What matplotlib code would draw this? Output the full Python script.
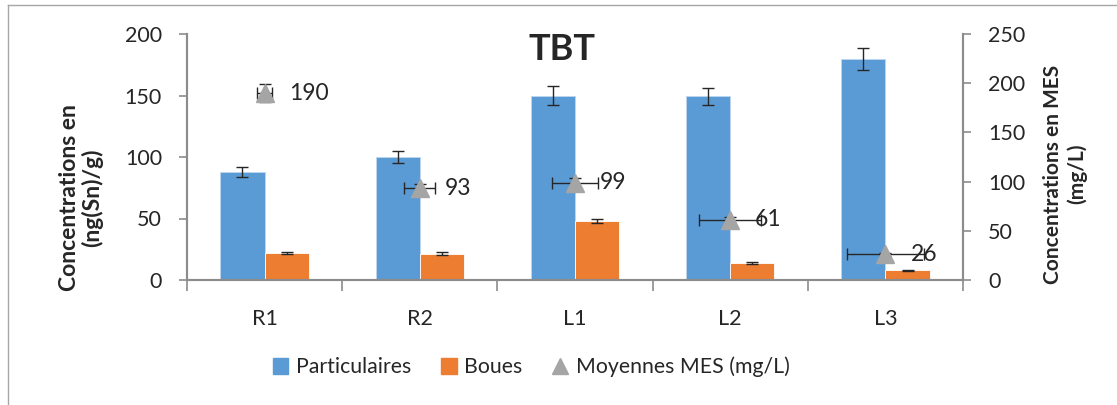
import numpy as np
import matplotlib
matplotlib.use("Agg")
import matplotlib.pyplot as plt
from matplotlib.lines import Line2D
from matplotlib.patches import Patch

plt.rcParams["font.family"] = ["Lato", "DejaVu Sans"]

# ── data ─────────────────────────────────────────────────────────────────────
sites = ["R1", "R2", "L1", "L2", "L3"]
particulaires = [88, 100, 150, 149.5, 180]
particulaires_err = [4, 5, 8, 7, 9]
boues = [22, 21.5, 48, 14, 8]
boues_err = [1, 1, 2, 0.7, 0.5]
mes = [190, 93, 99, 61, 26]          # right axis, mg/L
mes_xerr = [0.05, 0.10, 0.15, 0.20, 0.25]   # 5 % of category index (Excel style)
mes_yerr = [9.5, 4.7, 5.0, 3.0, 1.3]

BLUE = "#5B9BD5"
ORANGE = "#ED7D31"
GREY = "#A5A5A5"
AXC = "#8C8C8C"
TXT = "#262626"

fig = plt.figure(figsize=(11.17, 4.05), dpi=100)
ax = fig.add_axes([187 / 1117, 125 / 405, 776 / 1117, 246 / 405])
ax2 = ax.twinx()

x = np.arange(len(sites))
w = 0.285
ax.bar(x - w / 2, particulaires, w, color=BLUE, edgecolor="#BDD7EE", lw=0.6,
       yerr=particulaires_err, error_kw=dict(ecolor=TXT, elinewidth=1, capsize=4.5, capthick=1))
ax.bar(x + w / 2, boues, w, color=ORANGE, edgecolor="white", lw=0.6,
       yerr=boues_err, error_kw=dict(ecolor=TXT, elinewidth=1, capsize=4.5, capthick=1))

ax2.errorbar(x, mes, xerr=mes_xerr, yerr=mes_yerr, fmt="none", ecolor=TXT,
             elinewidth=1, capsize=4.5, capthick=1, zorder=3)
ax2.plot(x, mes, ls="none", marker="^", ms=13, color=GREY, zorder=4)
for xi, v in zip(x, mes):
    ax2.annotate(f"{v}", (xi, v), xytext=(18, 0), textcoords="offset points",
                 ha="left", va="center", fontsize=16.5, color=TXT)

ax.set_xlim(-0.5, 4.5)
ax.set_ylim(0, 200)
ax2.set_ylim(0, 250)
ax.set_yticks([0, 50, 100, 150, 200])
ax2.set_yticks([0, 50, 100, 150, 200, 250])
ax.set_xticks(x)
ax.set_xticklabels(sites)
ax.set_xticks(np.arange(-0.5, 5, 1), minor=True)
ax.tick_params(axis="x", which="major", length=0, pad=21, labelsize=15.5, labelcolor=TXT)
ax.tick_params(axis="x", which="minor", length=8, color=AXC, width=1.2)
ax.tick_params(axis="y", length=6, color=AXC, width=1.2, pad=12, labelsize=15.5, labelcolor=TXT)
ax2.tick_params(axis="y", length=6, color=AXC, width=1.2, pad=12, labelsize=15.5, labelcolor=TXT)

for a in (ax, ax2):
    a.spines["top"].set_visible(False)
    for s in ("left", "right", "bottom"):
        a.spines[s].set_color(AXC)
        a.spines[s].set_linewidth(1.5)

fig.text(562 / 1117, 1 - 50 / 405, "TBT", ha="center", va="center",
         fontsize=26, fontweight="bold", color=TXT)
fig.text(81 / 1117, 1 - 198 / 405, "Concentrations en\n(ng(Sn)/g)", rotation=90,
         ha="center", va="center", fontsize=16.5, fontweight="bold", color=TXT,
         linespacing=1.1)
fig.text(1065 / 1117, 1 - 174 / 405, "Concentrations en MES\n(mg/L)", rotation=90,
         ha="center", va="center", fontsize=15, fontweight="bold", color=TXT,
         linespacing=1.25)

handles = [Patch(color=BLUE, label="Particulaires"),
           Patch(color=ORANGE, label="Boues"),
           Line2D([], [], ls="none", marker="^", ms=11, color=GREY,
                  label="Moyennes MES (mg/L)")]
fig.legend(handles=handles, loc="center", bbox_to_anchor=(531 / 1117, 1 - 367 / 405),
           ncol=3, frameon=False, fontsize=15.3, handlelength=0.75, handleheight=0.75,
           handletextpad=0.35, columnspacing=1.4, labelcolor=TXT)

# partial outer frame (top and left edge visible in the reference)
fig.add_artist(Line2D([8 / 1117, 1], [1 - 5 / 405, 1 - 5 / 405],
                      transform=fig.transFigure, color="#A6A6A6", lw=1))
fig.add_artist(Line2D([8 / 1117, 8 / 1117], [0, 1 - 5 / 405],
                      transform=fig.transFigure, color="#A6A6A6", lw=1))

fig.savefig("out.png", dpi=100)
